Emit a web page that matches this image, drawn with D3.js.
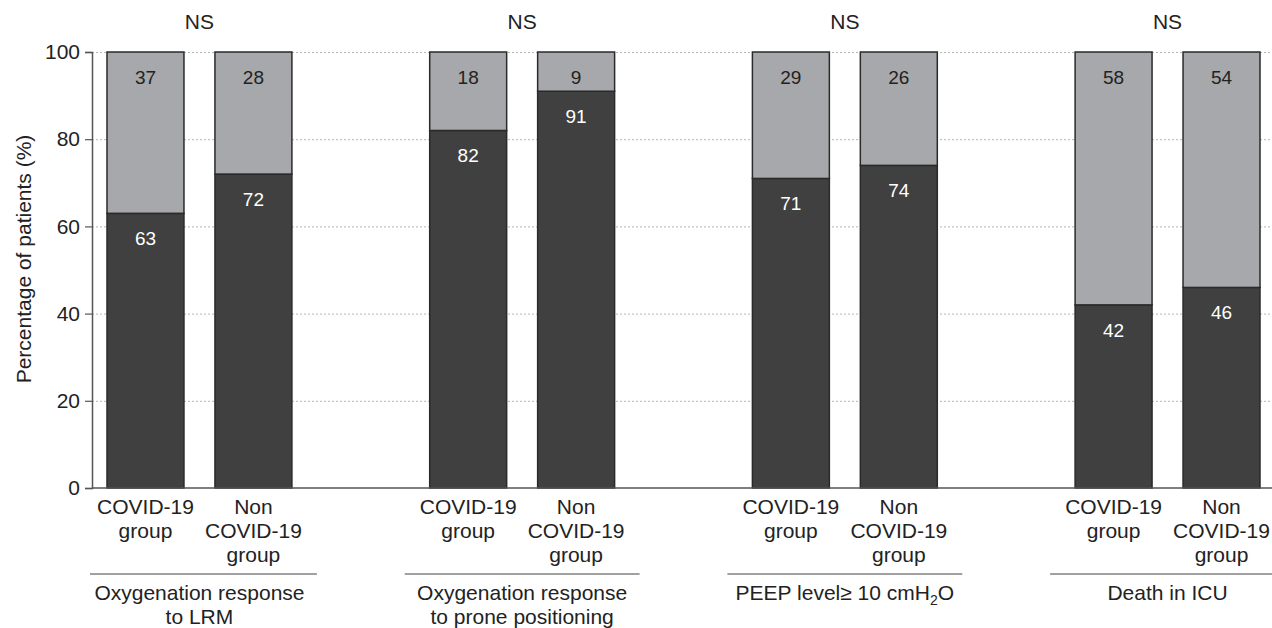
<!DOCTYPE html>
<html>
<head>
<meta charset="utf-8">
<script src="https://cdn.jsdelivr.net/npm/d3@7"></script>
<style>
  body { margin: 0; background: #fff; }
  text { font-family: "Liberation Sans", Arial, sans-serif; fill: #222; }
</style>
</head>
<body>
<script>
// data
var groups = ["Oxygenation response|to LRM", "Oxygenation response|to prone positioning", "PEEP level≥ 10 cmH2O", "Death in ICU"];
var categories = ["COVID-19|group", "Non|COVID-19|group"];
var yesValues = [63, 72, 82, 91, 71, 74, 42, 46];
var noValues = [37, 28, 18, 9, 29, 26, 58, 54];
var signif = ["NS", "NS", "NS", "NS"];
var yTicks = [0, 20, 40, 60, 80, 100];

var width = 1272, height = 628;
var axisX = 92, yTop = 52, yBottom = 488;

var svg = d3.select("body")
    .append("svg")
    .attr("width", width)
    .attr("height", height);

var y = d3.scaleLinear().domain([0, 100]).range([yBottom, yTop]);

var x0 = d3.scaleBand()
    .domain(d3.range(groups.length))
    .range([107, 1260])
    .paddingInner(0.427)
    .paddingOuter(0);

var x1 = d3.scaleBand()
    .domain(d3.range(categories.length))
    .range([0, x0.bandwidth()])
    .paddingInner(0.287)
    .paddingOuter(0);

// gridlines
svg.append("g")
    .selectAll("line")
    .data(yTicks.filter(function (d) { return d > 0; }))
    .enter().append("line")
    .attr("x1", axisX)
    .attr("x2", width)
    .attr("y1", function (d) { return y(d) + 0.5; })
    .attr("y2", function (d) { return y(d) + 0.5; })
    .style("stroke", "#b5b5b5")
    .style("stroke-width", 1)
    .style("stroke-dasharray", "2,2");

// y axis
var yAxis = svg.append("g")
    .attr("transform", "translate(" + axisX + ",0)")
    .call(d3.axisLeft(y).tickValues(yTicks).tickSize(7).tickPadding(5));
yAxis.select(".domain").style("stroke", "#555").style("stroke-width", 1.5);
yAxis.selectAll(".tick line").style("stroke", "#555").style("stroke-width", 1.2);
yAxis.selectAll(".tick text")
    .style("font-size", "21px")
    .style("fill", "#222")
    .style("font-family", "Liberation Sans, Arial, sans-serif");

svg.append("text")
    .attr("transform", "translate(31,259) rotate(-90)")
    .attr("text-anchor", "middle")
    .style("font-size", "21px")
    .text("Percentage of patients (%)");

// flatten bar data
var bars = [];
groups.forEach(function (g, gi) {
    categories.forEach(function (c, ci) {
        var k = gi * categories.length + ci;
        bars.push({ g: gi, c: ci, yes: yesValues[k], no: noValues[k] });
    });
});

function barX(d) { return x0(d.g) + x1(d.c); }

var barG = svg.append("g");

// lower (dark) part
barG.selectAll(".yes")
    .data(bars)
    .enter().append("rect")
    .attr("class", "yes")
    .attr("x", barX)
    .attr("width", x1.bandwidth())
    .attr("y", function (d) { return y(d.yes); })
    .attr("height", function (d) { return y(0) - y(d.yes); })
    .style("fill", "#404040")
    .style("stroke", "#2a2a2a")
    .style("stroke-width", 1.5);

// upper (light) part
barG.selectAll(".no")
    .data(bars)
    .enter().append("rect")
    .attr("class", "no")
    .attr("x", barX)
    .attr("width", x1.bandwidth())
    .attr("y", function (d) { return y(d.yes + d.no); })
    .attr("height", function (d) { return y(d.yes) - y(d.yes + d.no); })
    .style("fill", "#a7a8ab")
    .style("stroke", "#2a2a2a")
    .style("stroke-width", 1.5);

// value labels
barG.selectAll(".noLabel")
    .data(bars)
    .enter().append("text")
    .attr("x", function (d) { return barX(d) + x1.bandwidth() / 2; })
    .attr("y", function (d) { return y(d.yes + d.no) + 32; })
    .attr("text-anchor", "middle")
    .style("font-size", "19px")
    .style("fill", "#222")
    .text(function (d) { return d.no; });

barG.selectAll(".yesLabel")
    .data(bars)
    .enter().append("text")
    .attr("x", function (d) { return barX(d) + x1.bandwidth() / 2; })
    .attr("y", function (d) { return y(d.yes) + 32; })
    .attr("text-anchor", "middle")
    .style("font-size", "19px")
    .style("fill", "#fff")
    .text(function (d) { return d.yes; });

// baseline
svg.append("line")
    .attr("x1", axisX)
    .attr("x2", width)
    .attr("y1", yBottom)
    .attr("y2", yBottom)
    .style("stroke", "#555")
    .style("stroke-width", 1.5);

// category labels
bars.forEach(function (d) {
    var lines = categories[d.c].split("|");
    var t = svg.append("text")
        .attr("text-anchor", "middle")
        .style("font-size", "21px");
    lines.forEach(function (l, i) {
        t.append("tspan")
            .attr("x", barX(d) + x1.bandwidth() / 2)
            .attr("y", 514 + i * 24)
            .text(l);
    });
});

// group separators and labels
groups.forEach(function (g, gi) {
    var left = Math.max(x0(gi) - 25, axisX - 2);
    var right = Math.min(x0(gi) + x0.bandwidth() + 25, width);
    svg.append("line")
        .attr("x1", left)
        .attr("x2", right)
        .attr("y1", 574)
        .attr("y2", 574)
        .style("stroke", "#444")
        .style("stroke-width", 1.2);

    var cx = x0(gi) + x0.bandwidth() / 2;
    var t = svg.append("text")
        .attr("text-anchor", "middle")
        .style("font-size", "21px");
    var lines = g.split("|");
    lines.forEach(function (l, i) {
        var ts = t.append("tspan")
            .attr("x", cx)
            .attr("y", 600 + i * 24);
        if (l.indexOf("H2O") >= 0) {
            ts.text(l.replace("H2O", "H"));
            t.append("tspan").attr("dy", 5).style("font-size", "14px").text("2");
            t.append("tspan").attr("dy", -5).text("O");
        } else {
            ts.text(l);
        }
    });

    svg.append("text")
        .attr("x", cx)
        .attr("y", 29)
        .attr("text-anchor", "middle")
        .style("font-size", "21px")
        .text(signif[gi]);
});
</script>
</body>
</html>
